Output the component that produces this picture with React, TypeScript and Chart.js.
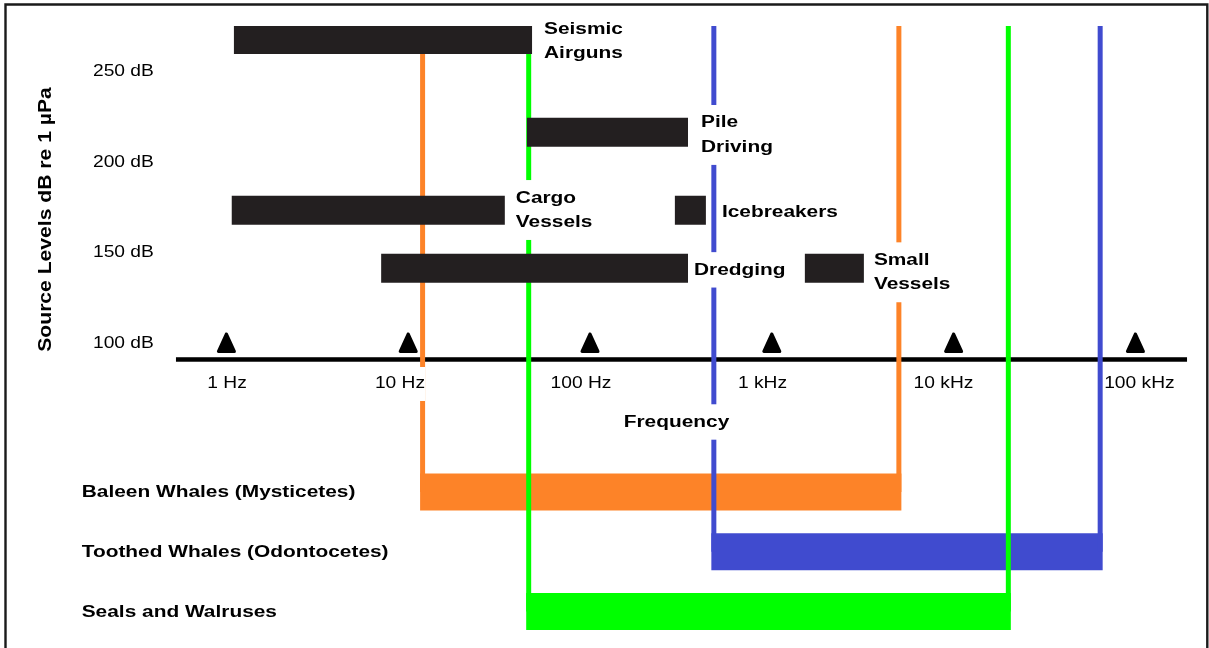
import React, { useEffect, useRef } from 'react';
import { Chart, registerables } from 'chart.js';

Chart.register(...registerables);

// ---- Noise sources (frequency range in Hz, source level in dB re 1 µPa) ----
const SOURCE_NAMES: string[][] = [
  ['Seismic', 'Airguns'],
  ['Pile', 'Driving'],
  ['Cargo', 'Vessels'],
  ['Icebreakers'],
  ['Dredging'],
  ['Small', 'Vessels'],
];
const SOURCE_LOW_HZ = [1.1, 45, 1.07, 293, 7.1, 1520];
const SOURCE_HIGH_HZ = [48, 346, 34, 434, 346, 3210];
const SOURCE_LEVEL_DB = [267.5, 216.5, 173.5, 173.5, 141.5, 141.5];

// ---- Hearing ranges (Hz) ----
const HEARING_GROUPS = ['Baleen Whales (Mysticetes)', 'Toothed Whales (Odontocetes)', 'Seals and Walruses'];
const HEARING_LOW_HZ = [12, 480, 46];
const HEARING_HIGH_HZ = [5000, 64000, 20000];
const HEARING_COLORS = ['#FD8328', '#404BCF', '#00FF00'];

// ---- Axes ----
const FREQ_TICKS_HZ = [1, 10, 100, 1000, 10000, 100000];
const FREQ_TICK_LABELS = ['1 Hz', '10 Hz', '100 Hz', '1 kHz', '10 kHz', '100 kHz'];
const LEVEL_TICKS_DB = [100, 150, 200, 250];
const LEVEL_TICK_LABELS = ['100 dB', '150 dB', '200 dB', '250 dB'];
const Y_TITLE = 'Source Levels dB re 1 µPa';
const X_TITLE = 'Frequency';

// ---- Layout / style constants ----
const W = 1209;
const H = 648;
const SX = 1.2; // horizontal text stretch of the original lettering
const BOLD_SIZE = 17.4;
const REG_SIZE = 16;
const BOLD = `bold ${BOLD_SIZE}px "Liberation Sans", Arial, sans-serif`;
const REG = `${REG_SIZE}px "Liberation Sans", Arial, sans-serif`;
const TITLE_FONT = 'bold 17.6px "Liberation Sans", Arial, sans-serif';
const LINE_GAP = 24.5;
const ROW_TOP = -7.8;
const ROW_BOTTOM = 2.5;
const TICK_LABEL_NUDGE = [0.6, -8.2, -9, -9.3, -10.1, 4];
const SOURCE_LABEL_DX = [12, 13, 11, 16, 6, 10];
const SOURCE_LABEL_DY = [-10.5, -9.5, -12.5, 1.5, 1.5, -8.3];

function drawLabel(
  ctx: CanvasRenderingContext2D,
  lines: string[],
  x: number,
  y0: number,
  font: string,
  size: number,
  align: CanvasTextAlign,
  box: boolean,
  padX = 4,
) {
  ctx.save();
  ctx.font = font;
  const w = Math.max(...lines.map((t) => ctx.measureText(t).width * SX));
  if (box) {
    const left = align === 'center' ? x - w / 2 : align === 'right' ? x - w : x;
    ctx.fillStyle = '#ffffff';
    ctx.fillRect(left - padX, y0 - size / 2 - 9, w + 2 * padX, (lines.length - 1) * LINE_GAP + size + 18);
  }
  ctx.fillStyle = '#000000';
  ctx.textBaseline = 'middle';
  lines.forEach((t, k) => {
    ctx.save();
    ctx.translate(x, y0 + k * LINE_GAP);
    ctx.scale(SX, 1);
    ctx.textAlign = align;
    ctx.fillText(t, 0, 0);
    ctx.restore();
  });
  ctx.restore();
}

const overlayPlugin = {
  id: 'overlay',
  beforeDatasetsDraw(chart: any) {
    const ctx: CanvasRenderingContext2D = chart.ctx;
    const xs = chart.scales.x;
    const ys = chart.scales.y;
    const area = chart.chartArea;
    ctx.save();
    // frame
    ctx.strokeStyle = '#1a1a1a';
    ctx.lineWidth = 2.4;
    ctx.beginPath();
    ctx.moveTo(5.5, H + 10);
    ctx.lineTo(5.5, 4.5);
    ctx.lineTo(1207.3, 4.5);
    ctx.lineTo(1207.3, H + 10);
    ctx.stroke();
    // frequency axis line
    const axisY = ys.getPixelForValue(LEVEL_TICKS_DB[0]) + 15.8;
    ctx.fillStyle = '#000000';
    ctx.fillRect(area.left + 4.3, axisY - 2.25, area.width - 7.4, 4.5);
    // tick triangles
    ctx.lineJoin = 'round';
    ctx.lineWidth = 3;
    ctx.strokeStyle = '#000000';
    FREQ_TICKS_HZ.forEach((f) => {
      const cx = xs.getPixelForValue(f);
      ctx.beginPath();
      ctx.moveTo(cx, axisY - 25.5);
      ctx.lineTo(cx - 8, axisY - 8);
      ctx.lineTo(cx + 8, axisY - 8);
      ctx.closePath();
      ctx.fill();
      ctx.stroke();
    });
    ctx.restore();
  },
  afterDatasetsDraw(chart: any) {
    const ctx: CanvasRenderingContext2D = chart.ctx;
    const xs = chart.scales.x;
    const ys = chart.scales.y;
    const yh = chart.scales.yH;
    const axisY = ys.getPixelForValue(LEVEL_TICKS_DB[0]) + 15.8;

    // level tick labels
    LEVEL_TICKS_DB.forEach((v, i) => {
      drawLabel(ctx, [LEVEL_TICK_LABELS[i]], 93, ys.getPixelForValue(v), REG, REG_SIZE, 'left', false);
    });
    // y title (rotated)
    ctx.save();
    ctx.font = TITLE_FONT;
    ctx.fillStyle = '#000000';
    ctx.textBaseline = 'middle';
    ctx.textAlign = 'center';
    ctx.translate(46, 219.5);
    ctx.rotate(-Math.PI / 2);
    ctx.scale(SX, 1);
    ctx.fillText(Y_TITLE, 0, 0);
    ctx.restore();

    // frequency tick labels
    FREQ_TICKS_HZ.forEach((f, i) => {
      drawLabel(ctx, [FREQ_TICK_LABELS[i]], xs.getPixelForValue(f) + TICK_LABEL_NUDGE[i], axisY + 24.5, REG, REG_SIZE, 'center', true, 0);
    });
    // x title
    drawLabel(ctx, [X_TITLE], 676.5, axisY + 62.5, BOLD, BOLD_SIZE, 'center', true, 3);

    // source labels
    SOURCE_NAMES.forEach((lines, i) => {
      const px = xs.getPixelForValue(SOURCE_HIGH_HZ[i]) + SOURCE_LABEL_DX[i];
      const py = ys.getPixelForValue(SOURCE_LEVEL_DB[i]) + SOURCE_LABEL_DY[i];
      drawLabel(ctx, lines, px, py, BOLD, BOLD_SIZE, 'left', true, 4);
    });

    // hearing group labels
    HEARING_GROUPS.forEach((g, i) => {
      drawLabel(ctx, [g], 81.7, yh.getPixelForValue(i) + 0.5, BOLD, BOLD_SIZE, 'left', false);
    });
  },
};

export default function App() {
  const canvasRef = useRef<HTMLCanvasElement | null>(null);

  useEffect(() => {
    if (!canvasRef.current) return;

    const sourceData = SOURCE_LEVEL_DB.map((db, i) => ({ x: [SOURCE_LOW_HZ[i], SOURCE_HIGH_HZ[i]], y: db }));
    const hearingData = HEARING_GROUPS.map((_, i) => ({ x: [HEARING_LOW_HZ[i], HEARING_HIGH_HZ[i]], y: i }));

    const edgeLines: any[] = [];
    HEARING_GROUPS.forEach((g, i) => {
      [HEARING_LOW_HZ[i], HEARING_HIGH_HZ[i]].forEach((hz, k) => {
        edgeLines.push({
          type: 'line',
          label: `${g} ${k === 0 ? 'low' : 'high'}`,
          xAxisID: 'x',
          yAxisID: 'yH',
          data: [
            { x: hz, y: ROW_TOP },
            { x: hz, y: i },
          ],
          borderColor: HEARING_COLORS[i],
          borderWidth: 5,
          borderCapStyle: 'butt',
          pointRadius: 0,
          tension: 0,
          fill: false,
          order: 2,
        });
      });
    });

    const chart = new Chart(canvasRef.current, {
      type: 'bar',
      data: {
        datasets: [
          {
            type: 'bar',
            label: 'Noise sources',
            indexAxis: 'y',
            xAxisID: 'x',
            yAxisID: 'y',
            data: sourceData as any,
            backgroundColor: '#231F20',
            borderWidth: 0,
            barThickness: 29,
            inflateAmount: 0,
            order: 1,
          } as any,
          {
            type: 'bar',
            label: 'Hearing ranges',
            indexAxis: 'y',
            xAxisID: 'x',
            yAxisID: 'yH',
            data: hearingData as any,
            backgroundColor: HEARING_COLORS,
            borderWidth: 0,
            barThickness: 32,
            inflateAmount: 2.5,
            order: 3,
          } as any,
          ...edgeLines,
        ],
      },
      options: {
        responsive: false,
        maintainAspectRatio: false,
        animation: false,
        events: [],
        devicePixelRatio: 1,
        layout: { padding: { left: 171.67, right: 18.87, top: 26, bottom: 6.6 } },
        plugins: {
          legend: { display: false },
          tooltip: { enabled: false },
          title: { display: false },
        },
        scales: {
          x: {
            type: 'logarithmic',
            axis: 'x',
            position: 'bottom',
            min: 0.5,
            max: 200000,
            bounds: 'data',
            offset: false,
            display: false,
          },
          y: {
            type: 'linear',
            axis: 'y',
            position: 'left',
            min: -64,
            max: 275,
            bounds: 'data',
            offset: false,
            beginAtZero: false,
            display: false,
          },
          yH: {
            type: 'linear',
            axis: 'y',
            position: 'left',
            min: ROW_TOP,
            max: ROW_BOTTOM,
            reverse: true,
            bounds: 'data',
            offset: false,
            beginAtZero: false,
            display: false,
          },
        } as any,
      },
      plugins: [overlayPlugin],
    } as any);

    return () => chart.destroy();
  }, []);

  return (
    <div style={{ position: 'absolute', left: 0, top: 0, width: W, height: H, background: '#ffffff', overflow: 'hidden' }}>
      <canvas ref={canvasRef} width={W} height={H} style={{ display: 'block', width: W, height: H }} />
    </div>
  );
}
